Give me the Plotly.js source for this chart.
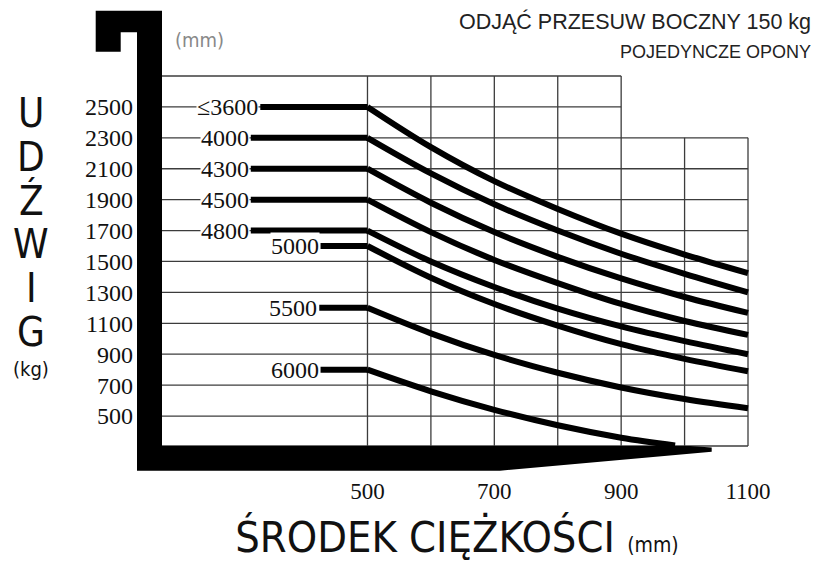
<!DOCTYPE html>
<html><head><meta charset="utf-8">
<script src="https://cdn.plot.ly/plotly-3.0.1.min.js"></script>
<style>html,body{margin:0;padding:0;background:#fff}#chart{width:820px;height:562px}</style>
</head><body><div id="chart"></div>
<script>
// ---- data ----
const loadCentre = [500, 600, 700, 800, 900, 1000, 1100];        // mm
const loadCentre6000 = [500, 600, 700, 800, 900, 985];            // mm
const cap3600 = [2500, 2240, 2020, 1840, 1680, 1545, 1425];       // kg
const cap4000 = [2300, 2070, 1870, 1700, 1550, 1420, 1300];
const cap4300 = [2100, 1880, 1690, 1530, 1390, 1270, 1167];
const cap4500 = [1900, 1690, 1510, 1360, 1225, 1115, 1025];
const cap4800 = [1700, 1500, 1335, 1195, 1080, 985, 900];
const cap5000 = [1600, 1395, 1225, 1085, 965, 870, 790];
const cap5500 = [1200, 1035, 895, 780, 685, 610, 550];
const cap6000 = [800, 660, 540, 440, 360, 310];
const liftLabels = ['≤3600', '4000', '4300', '4500', '4800', '5000', '5500', '6000'];
const stubStart = [331, 316, 316, 316, 316, 426, 424, 426];     // mm where the heavy line begins
const yTicks = [2500, 2300, 2100, 1900, 1700, 1500, 1300, 1100, 900, 700, 500];
const xTicks = [500, 700, 900, 1100];
const gridX = [500, 600, 700, 800, 900, 1000, 1100];
const gridY = [2700, 2500, 2300, 2100, 1900, 1700, 1500, 1300, 1100, 900, 700, 500, 306];
const yTitleLetters = ['U', 'D', 'Ź', 'W', 'I', 'G'];

// ---- geometry helpers ----
const W = 820, H = 562;
const M = {l: 162, r: 68, t: 72, b: 112};
const PW = W - M.l - M.r, PH = H - M.t - M.b;
const px = x => (x - M.l) / PW;
const py = y => (H - M.b - y) / PH;

const series = [
  {x: loadCentre, y: cap3600}, {x: loadCentre, y: cap4000}, {x: loadCentre, y: cap4300},
  {x: loadCentre, y: cap4500}, {x: loadCentre, y: cap4800}, {x: loadCentre, y: cap5000},
  {x: loadCentre, y: cap5500}, {x: loadCentre6000, y: cap6000}
];

const traces = [];
series.forEach((s, i) => {
  traces.push({x: [stubStart[i], s.x[0]], y: [s.y[0], s.y[0]], mode: 'lines',
    line: {color: '#000', width: 6}, hoverinfo: 'skip', showlegend: false});
  traces.push({x: s.x, y: s.y, mode: 'lines', line: {color: '#000', width: 6, shape: 'spline', smoothing: 1},
    name: liftLabels[i], showlegend: false});
});

const gridColor = '#3c3c3c', gw = 1.3;
const shapes = [];
const shortTop = 2300, tallTop = 2700, tallEnd = 900, xLeft = 176, xRight = 1100, yBottom = 306;
gridY.forEach(v => {
  shapes.push({type: 'line', layer: 'below', xref: 'x', yref: 'y', x0: xLeft, x1: v > shortTop ? tallEnd : xRight,
    y0: v, y1: v, line: {color: gridColor, width: gw}});
});
gridX.forEach(v => {
  shapes.push({type: 'line', layer: 'below', xref: 'x', yref: 'y', x0: v, x1: v, y0: yBottom,
    y1: v > tallEnd ? shortTop : tallTop, line: {color: gridColor, width: gw}});
});
// fork-shaped frame (decoration, pixel outline converted to paper coords)
const fork = [[95.7,10.7],[162,10.7],[162,446],[690,446],[711.7,447.5],[711.7,451.8],[500,470.7],[137,470.7],[137,32.3],[120.7,32.3],[120.7,51.7],[95.7,51.7]];
shapes.push({type: 'path', xref: 'paper', yref: 'paper', layer: 'above', fillcolor: '#000', line: {width: 0},
  path: 'M' + fork.map(p => px(p[0]).toFixed(5) + ',' + py(p[1]).toFixed(5)).join(' L') + ' Z'});

const numFont = {family: 'Liberation Serif, serif', size: 24, color: '#111'};
const annotations = [];
series.forEach((s, i) => {
  annotations.push({x: stubStart[i], y: s.y[0], xref: 'x', yref: 'y', text: liftLabels[i], showarrow: false,
    xanchor: 'right', yanchor: 'middle', font: numFont, bgcolor: '#fff', borderpad: 0, xshift: -1});
});
yTitleLetters.forEach((t, i) => {
  annotations.push({x: px(31), y: py(113 + i * 43.8), xref: 'paper', yref: 'paper', text: t, showarrow: false,
    xanchor: 'center', yanchor: 'middle', font: {family: 'DejaVu Sans Condensed, DejaVu Sans', size: 40, color: '#111'}});
});
annotations.push({x: px(31), y: py(369), xref: 'paper', yref: 'paper', text: '(kg)', showarrow: false,
  xanchor: 'center', yanchor: 'middle', font: {family: 'DejaVu Sans Condensed, DejaVu Sans', size: 20, color: '#111'}});
annotations.push({x: px(173), y: py(40), xref: 'paper', yref: 'paper', text: '(mm)', showarrow: false,
  xanchor: 'left', yanchor: 'middle', font: {family: 'DejaVu Sans Condensed, DejaVu Sans', size: 20, color: '#888'}});
annotations.push({x: px(813), y: py(22), xref: 'paper', yref: 'paper', text: 'ODJĄĆ PRZESUW BOCZNY 150 kg', showarrow: false,
  xanchor: 'right', yanchor: 'middle', font: {family: 'Liberation Sans, Arial', size: 21.5, color: '#222'}});
annotations.push({x: px(813), y: py(52), xref: 'paper', yref: 'paper', text: 'POJEDYNCZE OPONY', showarrow: false,
  xanchor: 'right', yanchor: 'middle', font: {family: 'Liberation Sans, Arial', size: 18, color: '#222'}});

const layout = {
  width: W, height: H, margin: M, paper_bgcolor: '#fff', plot_bgcolor: '#fff', showlegend: false,
  xaxis: {range: [xLeft, xLeft + PW / 0.6342], tickvals: xTicks, showgrid: false, zeroline: false, showline: false,
    ticks: '', ticklabelstandoff: 25, tickfont: {family: 'Liberation Serif, serif', size: 23, color: '#111'},
    title: {text: 'ŚRODEK CIĘŻKOŚCI <span style="font-size:21px">(mm)</span>', standoff: 20,
      font: {family: 'DejaVu Sans Condensed, DejaVu Sans', size: 43, color: '#111'}}},
  yaxis: {autorange: false, tickvals: yTicks, showgrid: false, zeroline: false, showline: false, ticks: '',
    ticklabelstandoff: 28, tickfont: numFont},
  shapes: shapes, annotations: annotations
};
// y range: 2700 kg sits at pixel 76, 6.47 kg per pixel
layout.yaxis.range = [2700 - (H - M.b - 76) * 6.47, 2700 + (76 - M.t) * 6.47];
Plotly.newPlot('chart', traces, layout, {staticPlot: true, displayModeBar: false});
</script></body></html>
